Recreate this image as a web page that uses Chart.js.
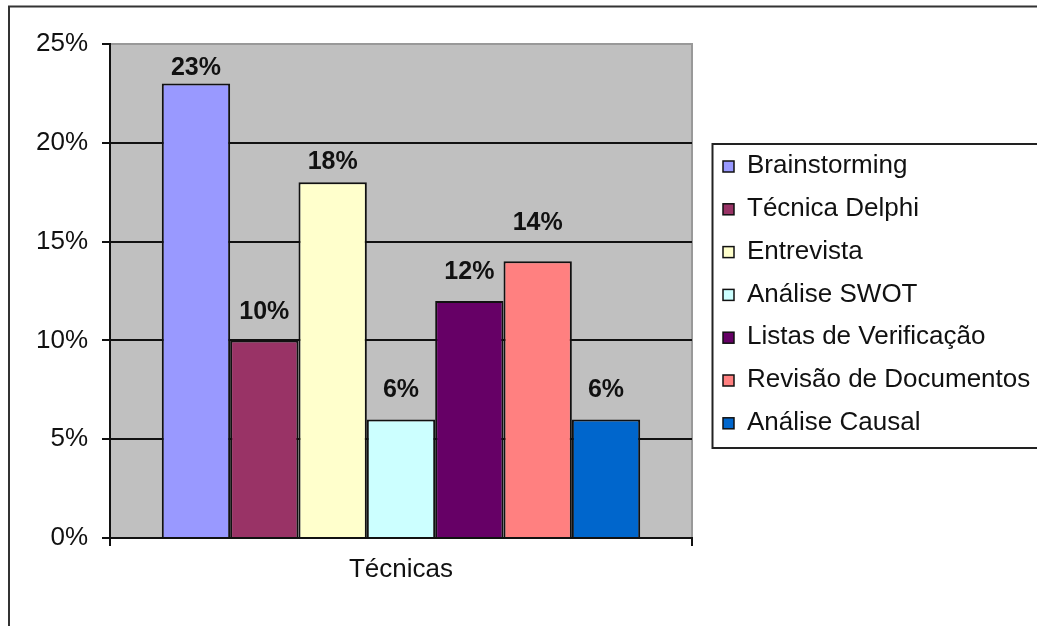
<!DOCTYPE html>
<html>
<head>
<meta charset="utf-8">
<script src="https://cdn.jsdelivr.net/npm/chart.js@4"></script>
<style>
  body { margin: 0; background: #fff; }
  canvas { display: block; }
</style>
</head>
<body>
<canvas id="chart" width="1037" height="626"></canvas>
<script>
// --- DATA ---
const categories = ['Técnicas'];
const techniques = ['Brainstorming', 'Técnica Delphi', 'Entrevista', 'Análise SWOT',
                    'Listas de Verificação', 'Revisão de Documentos', 'Análise Causal'];
const shares = [23, 10, 18, 6, 12, 14, 6];   // percent
const yTicks = [0, 5, 10, 15, 20, 25];

// excel 97 palette
const colors = ['#9999FF', '#993366', '#FFFFCC', '#CCFFFF', '#660066', '#FF8080', '#0066CC'];
// how far above each bar top its label sits (excel nudged them around)
const labelLift = [18, 30, 22, 31, 31, 40, 31];

const FONT = "'Liberation Sans', Arial, sans-serif";
const INK = '#111';

const frame = {
    id: 'frame',
    beforeDraw(chart) {
        const { ctx, chartArea: a } = chart;
        ctx.save();
        // outer border (right/bottom run off the picture)
        ctx.strokeStyle = '#333';
        ctx.lineWidth = 2;
        ctx.strokeRect(9, 6.5, 1100, 700);
        // grey plot area
        ctx.fillStyle = '#C0C0C0';
        ctx.fillRect(a.left, a.top, a.right - a.left, a.bottom - a.top);
        ctx.strokeStyle = '#999';
        ctx.lineWidth = 2;
        ctx.beginPath();
        ctx.moveTo(a.left, a.top);
        ctx.lineTo(a.right, a.top);
        ctx.lineTo(a.right, a.bottom);
        ctx.stroke();
        ctx.restore();
    }
};

const valueLabels = {
    id: 'valueLabels',
    afterDatasetsDraw(chart) {
        const ctx = chart.ctx;
        ctx.save();
        ctx.font = 'bold 25px ' + FONT;
        ctx.fillStyle = INK;
        ctx.textAlign = 'center';
        ctx.textBaseline = 'alphabetic';
        chart.data.datasets.forEach((ds, i) => {
            const bar = chart.getDatasetMeta(i).data[0];
            ctx.fillText(ds.data[0] + '%', bar.x, bar.y - labelLift[i] + 9);
        });
        ctx.restore();
    }
};

const boxLegend = {
    id: 'boxLegend',
    afterDraw(chart) {
        const ctx = chart.ctx;
        ctx.save();
        ctx.strokeStyle = '#222';
        ctx.lineWidth = 2;
        ctx.strokeRect(712.5, 144, 400, 304);
        ctx.font = '26px ' + FONT;
        ctx.textBaseline = 'middle';
        chart.data.datasets.forEach((ds, i) => {
            const cy = 166 + i * 42.8;
            ctx.fillStyle = ds.backgroundColor;
            ctx.fillRect(723, cy - 5, 11, 11);
            ctx.strokeStyle = INK;
            ctx.lineWidth = 1.5;
            ctx.strokeRect(723, cy - 5, 11, 11);
            ctx.fillStyle = INK;
            ctx.fillText(ds.label, 747, cy);
        });
        ctx.restore();
    }
};

new Chart(document.getElementById('chart'), {
    type: 'bar',
    data: {
        labels: categories,
        datasets: techniques.map((t, i) => ({
            label: t,
            data: [shares[i]],
            backgroundColor: colors[i],
            borderColor: INK,
            borderWidth: 2,
            categoryPercentage: 0.822,
            barPercentage: 1
        }))
    },
    options: {
        responsive: false,
        animation: false,
        layout: { padding: { top: 44, right: 345, left: 0, bottom: 0 } },
        plugins: { legend: { display: false }, tooltip: { enabled: false } },
        scales: {
            x: {
                afterFit: s => { s.height = 88; },
                grid: { drawOnChartArea: false, color: INK, lineWidth: 2, tickLength: 8 },
                border: { color: INK, width: 2 },
                ticks: { color: INK, font: { family: FONT, size: 26 }, padding: 8 }
            },
            y: {
                min: 0,
                max: 25,
                afterFit: s => { s.width = 110; },
                afterBuildTicks: s => { s.ticks = yTicks.map(v => ({ value: v })); },
                grid: {
                    color: c => c.tick && c.tick.value === 25 ? '#999' : INK,
                    tickColor: INK,
                    lineWidth: 2,
                    tickLength: 8
                },
                border: { color: INK, width: 2 },
                ticks: {
                    color: INK,
                    font: { family: FONT, size: 26 },
                    padding: 14,
                    callback: v => v + '%'
                }
            }
        }
    },
    plugins: [frame, valueLabels, boxLegend]
});
</script>
</body>
</html>
